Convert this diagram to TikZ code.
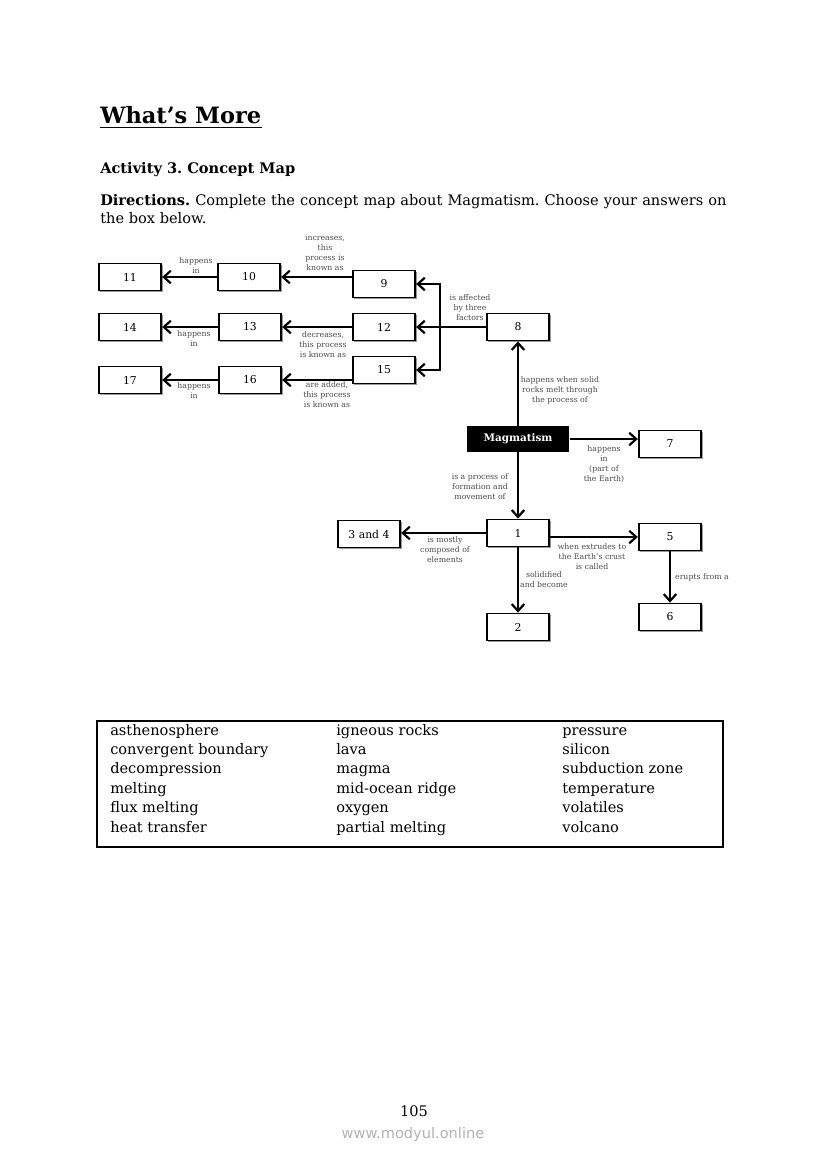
\documentclass[tikz,border=0pt]{standalone}
\usepackage{fontspec}
\setmainfont{DejaVu Serif}
\setsansfont{DejaVu Sans}
\usetikzlibrary{arrows.meta,shadows}
\begin{document}
\frenchspacing
\begin{tikzpicture}[x=0.72pt,y=-0.72pt,
  cbox/.style={draw, line width=1.3pt, fill=white, minimum width=45pt, minimum height=19.4pt, inner sep=0pt,
    font=\fontsize{7.8}{9}\selectfont, drop shadow={shadow xshift=0.9pt, shadow yshift=-0.9pt, fill=black!40, opacity=1}},
  magbox/.style={fill=black, text=white, minimum width=74pt, minimum height=19pt, inner sep=0pt,
    font=\bfseries\fontsize{7.5}{9}\selectfont},
  arr/.style={line width=2pt, -{Straight Barb[length=5pt,width=9pt,line width=1.6pt]}},
  plain/.style={line width=2pt},
  lab/.style={font=\fontsize{5.6}{7.2}\selectfont, text=black!70, align=center, inner sep=0pt},
  word/.style={anchor=base west, font=\fontsize{10.5}{12}\selectfont, inner sep=0pt}
]
\useasboundingbox (0,0) rectangle (826,1169);
% header
\node[anchor=base west, inner sep=0pt, font=\bfseries\fontsize{16.2}{19}\selectfont] (title) at (100,123) {What’s More};
\draw[line width=1.4pt] (title.south west |- 0,127.5) -- (title.south east |- 0,127.5);
\node[anchor=base west, inner sep=0pt, font=\bfseries\fontsize{10.5}{12}\selectfont] (act) at (100,173) {Activity 3. Concept Map};
\node[anchor=base west, inner sep=0pt, font=\fontsize{10.5}{12}\selectfont] (dir1) at (100,205)
  {\makebox[451pt][s]{\textbf{Directions.} Complete the concept map about Magmatism. Choose your answers on}};
\node[anchor=base west, inner sep=0pt, font=\fontsize{10.5}{12}\selectfont] (dir2) at (100,223) {the box below.};

% boxes
\node[cbox] (n11) at (130,277) {11};
\node[cbox] (n10) at (249,277) {10};
\node[cbox] (n9) at (384,284) {9};
\node[cbox] (n14) at (130,327) {14};
\node[cbox] (n13) at (250,327) {13};
\node[cbox] (n12) at (384,327) {12};
\node[cbox] (n8) at (518,327) {8};
\node[cbox] (n17) at (130,380) {17};
\node[cbox] (n16) at (250,380) {16};
\node[cbox] (n15) at (384,370) {15};
\node[magbox] (mag) at (518,439) {Magmatism};
\node[cbox] (n7) at (670,444) {7};
\node[cbox] (n34) at (369,534) {3 and 4};
\node[cbox] (n1) at (518,533) {1};
\node[cbox] (n5) at (670,537) {5};
\node[cbox] (n2) at (518,627) {2};
\node[cbox] (n6) at (670,617) {6};

% connectors
\coordinate (j) at (440,327);
\draw[plain] (n8.west) -- (j);
\draw[plain, line cap=rect] (j |- n9) -- (j |- n15);
\draw[arr] (j |- n9) -- (n9.east);
\draw[arr] (j) -- (n12.east);
\draw[arr] (j |- n15) -- (n15.east);
\draw[arr] (n9.west |- n10) -- (n10.east);
\draw[arr] (n10.west) -- (n11.east);
\draw[arr] (n12.west) -- (n13.east);
\draw[arr] (n13.west) -- (n14.east);
\draw[arr] (n15.west |- n16) -- (n16.east);
\draw[arr] (n16.west) -- (n17.east);
\draw[arr] (mag.north) -- (n8.south);
\draw[arr] (mag.east) -- (mag.east -| n7.west);
\draw[arr] (mag.south) -- (n1.north);
\draw[arr] (n1.west) -- (n1.west -| n34.east);
\draw[arr] (n1.east |- n5) -- (n5.west);
\draw[arr] (n1.south) -- (n2.north);
\draw[arr] (n5.south) -- (n6.north);

% labels
\node[lab] (l1) at (325,252.5) {increases,\\this\\process is\\known as};
\node[lab] (l2) at (196,266) {happens\\in};
\node[lab] (l3) at (194,339) {happens\\in};
\node[lab] (l4) at (323,345) {decreases,\\this process\\is known as};
\node[lab] (l5) at (194,391) {happens\\in};
\node[lab] (l6) at (327,395) {are added,\\this process\\is known as};
\node[lab] (l7) at (470,308) {is affected\\by three\\factors};
\node[lab] (l8) at (560,390) {happens when solid\\rocks melt through\\the process of};
\node[lab] (l9) at (480,487) {is a process of\\formation and\\movement of};
\node[lab] (l10) at (604,464) {happens\\in\\(part of\\the Earth)};
\node[lab] (l11) at (445,550) {is mostly\\composed of\\elements};
\node[lab] (l12) at (592,557) {when extrudes to\\the Earth’s crust\\is called};
\node[lab] (l13) at (544,580) {solidified\\and become};
\node[lab] (l14) at (702,577) {erupts from a};

% word box
\node[draw, line width=1pt, minimum width=450.7pt, minimum height=90.7pt, inner sep=0pt] (wb) at (410,784) {};
\foreach \r/\a/\b [count=\i from 0] in {
  asthenosphere/igneous rocks/pressure,
  convergent boundary/lava/silicon,
  decompression/magma/subduction zone,
  melting/mid-ocean ridge/temperature,
  flux melting/oxygen/volatiles,
  heat transfer/partial melting/volcano}{
  \node[word] (wa\i) at (110,735+19.4*\i) {\r};
  \node[word] (wb\i) at (336,735+19.4*\i) {\a};
  \node[word] (wc\i) at (562,735+19.4*\i) {\b};
}
% footer
\node[anchor=base, inner sep=0pt, font=\fontsize{10.5}{12}\selectfont] (pg) at (414,1116) {105};
\node[inner sep=0pt, font=\sffamily\fontsize{10.5}{12}\selectfont, text=black!30] (url) at (413,1134) {www.modyul.online};
\end{tikzpicture}
\end{document}
